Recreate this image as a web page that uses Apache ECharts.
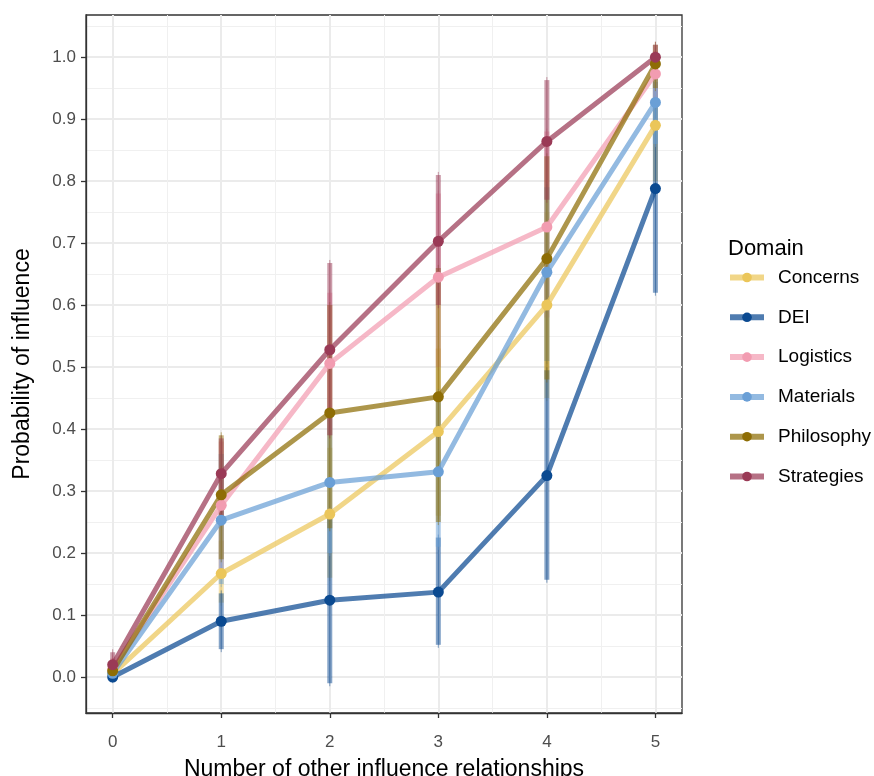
<!DOCTYPE html>
<html>
<head>
<meta charset="utf-8">
<script src="https://cdn.jsdelivr.net/npm/echarts@6/dist/echarts.min.js"></script>
<style>
  html, body { margin: 0; padding: 0; background: #fff; }
  #chart { width: 874px; height: 776px; }
</style>
</head>
<body>
<div id="chart"></div>
<script>
const xValues = [0, 1, 2, 3, 4, 5]
const yTicks = [0, 0.1, 0.2, 0.3, 0.4, 0.5, 0.6, 0.7, 0.8, 0.9, 1.0]
const yMinor = [-0.05, 0.05, 0.15, 0.25, 0.35, 0.45, 0.55, 0.65, 0.75, 0.85, 0.95, 1.05]
const xMinor = [0.5, 1.5, 2.5, 3.5, 4.5]

const domains = ['Concerns', 'DEI', 'Logistics', 'Materials', 'Philosophy', 'Strategies']
const colors = ['#EBC65A', '#0B4A91', '#F29CB1', '#6A9FD6', '#8E6D05', '#9A3A56']

// estimated probabilities
const concerns = [0.005, 0.167, 0.263, 0.396, 0.600, 0.890]
const dei = [0.000, 0.090, 0.124, 0.137, 0.325, 0.788]
const logistics = [0.012, 0.277, 0.506, 0.645, 0.726, 0.973]
const materials = [0.006, 0.253, 0.314, 0.331, 0.653, 0.927]
const philosophy = [0.010, 0.294, 0.426, 0.452, 0.675, 0.989]
const strategies = [0.020, 0.328, 0.528, 0.703, 0.864, 1.000]

// error bar ends
const concernsLo = [0.000, 0.120, 0.160, 0.260, 0.450, 0.800]
const concernsHi = [0.020, 0.220, 0.370, 0.530, 0.750, 0.970]
const deiLo = [-0.005, 0.045, -0.010, 0.052, 0.157, 0.620]
const deiHi = [0.005, 0.135, 0.260, 0.225, 0.495, 0.960]
const logisticsLo = [0.000, 0.170, 0.390, 0.500, 0.580, 0.930]
const logisticsHi = [0.030, 0.380, 0.620, 0.780, 0.880, 1.010]
const materialsLo = [0.000, 0.150, 0.200, 0.210, 0.510, 0.860]
const materialsHi = [0.015, 0.360, 0.430, 0.460, 0.790, 0.990]
const philosophyLo = [0.000, 0.190, 0.240, 0.250, 0.480, 0.950]
const philosophyHi = [0.025, 0.390, 0.600, 0.660, 0.840, 1.020]
const strategiesLo = [0.000, 0.260, 0.390, 0.600, 0.770, 0.970]
const strategiesHi = [0.040, 0.385, 0.668, 0.810, 0.963, 1.020]

const means = [concerns, dei, logistics, materials, philosophy, strategies]
const lows = [concernsLo, deiLo, logisticsLo, materialsLo, philosophyLo, strategiesLo]
const highs = [concernsHi, deiHi, logisticsHi, materialsHi, philosophyHi, strategiesHi]

const font = 'Liberation Sans, Arial, sans-serif'
const chart = echarts.init(document.getElementById('chart'))

const errorSeries = domains.map((name, i) => ({
  type: 'custom',
  name: name + ' range',
  z: 1,
  silent: true,
  data: xValues.map((x, k) => [x, lows[i][k], highs[i][k]]),
  renderItem: (params, api) => {
    const top = api.coord([api.value(0), api.value(2)])
    const bottom = api.coord([api.value(0), api.value(1)])
    return {
      type: 'group',
      children: [
        {
          type: 'line',
          shape: { x1: top[0], y1: top[1] - 3, x2: top[0], y2: bottom[1] + 3 },
          style: { stroke: colors[i], lineWidth: 1, opacity: 0.5 }
        },
        {
          type: 'rect',
          shape: { x: top[0] - 2.5, y: top[1], width: 5, height: bottom[1] - top[1] },
          style: { fill: colors[i], opacity: 0.5 }
        }
      ]
    }
  }
}))

const lineSeries = domains.map((name, i) => ({
  type: 'line',
  name: name,
  z: 3,
  data: xValues.map((x, k) => [x, means[i][k]]),
  symbol: 'circle',
  symbolSize: 11,
  showSymbol: true,
  lineStyle: { color: colors[i], width: 5, opacity: 0.72 },
  itemStyle: { color: colors[i] },
  emphasis: { disabled: true }
}))

chart.setOption({
  animation: false,
  title: {
    text: 'Domain',
    left: 723,
    top: 233,
    textStyle: { fontFamily: font, fontSize: 22, fontWeight: 'normal', color: '#000' }
  },
  legend: {
    data: domains,
    orient: 'vertical',
    left: 722,
    top: 263,
    itemWidth: 34,
    itemHeight: 12,
    itemGap: 20.8,
    lineStyle: { width: 6 },
    textStyle: { fontFamily: font, fontSize: 19, color: '#000', padding: [0, 0, 0, 9] }
  },
  grid: {
    left: 86,
    top: 15,
    width: 596,
    height: 698,
    outerBoundsMode: 'none',
    containLabel: false,
    show: true,
    borderColor: '#333',
    borderWidth: 1.3,
    backgroundColor: '#fff'
  },
  xAxis: [
    {
      type: 'value',
      min: -0.246,
      max: 5.245,
      name: 'Number of other influence relationships',
      nameLocation: 'middle',
      nameGap: 45,
      nameTextStyle: { fontFamily: font, fontSize: 23, color: '#000' },
      axisLine: { show: true, onZero: false, lineStyle: { color: '#333', width: 1.3 } },
      axisTick: { show: true, inside: false, length: 5, customValues: xValues, lineStyle: { color: '#333', width: 1.3 } },
      axisLabel: { customValues: xValues, margin: 21, fontFamily: font, fontSize: 17, color: '#4D4D4D' },
      splitLine: { show: true, lineStyle: { color: '#EBEBEB', width: 2 } }
    },
    {
      type: 'value',
      min: -0.246,
      max: 5.245,
      position: 'bottom',
      axisLine: { show: false, onZero: false },
      axisTick: { show: false, customValues: xMinor },
      axisLabel: { show: false },
      splitLine: { show: true, lineStyle: { color: '#F0F0F0', width: 1 } }
    }
  ],
  yAxis: [
    {
      type: 'value',
      min: -0.058,
      max: 1.068,
      name: 'Probability of influence',
      nameLocation: 'middle',
      nameGap: 52,
      nameTextStyle: { fontFamily: font, fontSize: 23, color: '#000' },
      axisLine: { show: true, onZero: false, lineStyle: { color: '#333', width: 1.3 } },
      axisTick: { show: true, inside: false, length: 5, customValues: yTicks, lineStyle: { color: '#333', width: 1.3 } },
      axisLabel: {
        customValues: yTicks,
        margin: 10,
        fontFamily: font,
        fontSize: 17,
        color: '#4D4D4D',
        formatter: v => v.toFixed(1)
      },
      splitLine: { show: true, lineStyle: { color: '#EBEBEB', width: 2 } }
    },
    {
      type: 'value',
      min: -0.058,
      max: 1.068,
      position: 'left',
      axisLine: { show: false, onZero: false },
      axisTick: { show: false, customValues: yMinor },
      axisLabel: { show: false },
      splitLine: { show: true, lineStyle: { color: '#F0F0F0', width: 1 } }
    }
  ],
  series: [...errorSeries, ...lineSeries]
})
</script>
</body>
</html>
